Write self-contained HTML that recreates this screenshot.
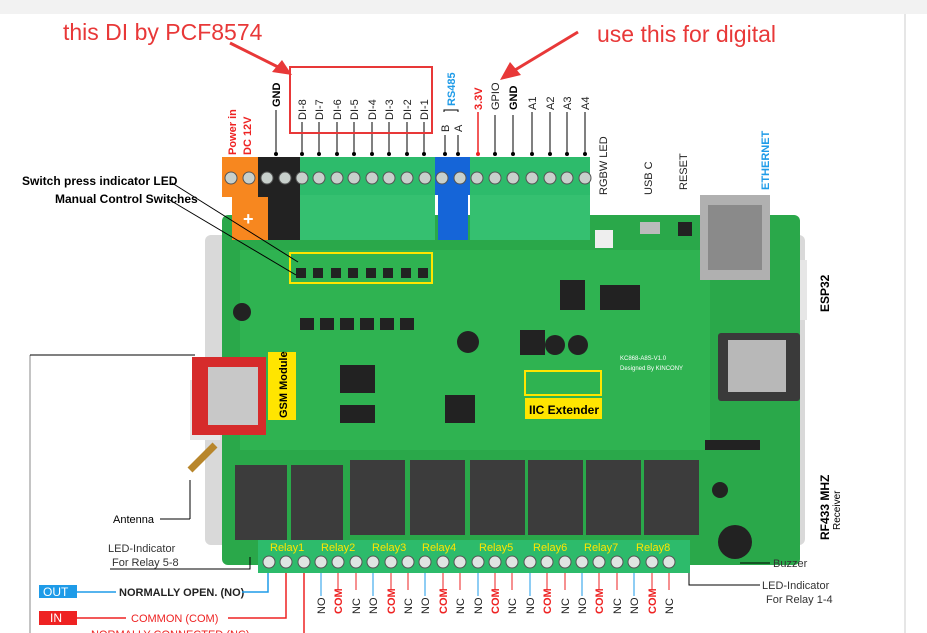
<!DOCTYPE html>
<html><head><meta charset="utf-8"><style>
html,body{margin:0;padding:0;background:#fff;width:927px;height:633px;overflow:hidden}
svg{display:block;font-family:"Liberation Sans",sans-serif}
</style></head><body>
<svg width="927" height="633" viewBox="0 0 927 633" xmlns="http://www.w3.org/2000/svg">
<rect x="0" y="0" width="927" height="14" fill="#f2f2f2"/>
<line x1="905" y1="14" x2="905" y2="633" stroke="#e6e6e6" stroke-width="2"/>
<line x1="30" y1="355" x2="30" y2="633" stroke="#888" stroke-width="1"/>

<!-- enclosure -->
<rect x="205" y="235" width="600" height="310" rx="6" fill="#d9d9d9"/>
<rect x="190" y="380" width="30" height="60" fill="#e6e6e6"/>
<rect x="785" y="260" width="22" height="60" fill="#e6e6e6"/>
<!-- board -->
<rect x="222" y="215" width="578" height="350" rx="6" fill="#2aa84a"/>
<rect x="240" y="250" width="470" height="200" fill="#31b552" opacity="0.8"/>
<!-- switches row -->
<rect x="290" y="253" width="142" height="30" fill="none" stroke="#ffe500" stroke-width="2"/>
<g fill="#222">
<rect x="296" y="268" width="10" height="10"/><rect x="313" y="268" width="10" height="10"/><rect x="331" y="268" width="10" height="10"/><rect x="348" y="268" width="10" height="10"/><rect x="366" y="268" width="10" height="10"/><rect x="383" y="268" width="10" height="10"/><rect x="401" y="268" width="10" height="10"/><rect x="418" y="268" width="10" height="10"/>
<rect x="300" y="318" width="14" height="12"/><rect x="320" y="318" width="14" height="12"/><rect x="340" y="318" width="14" height="12"/><rect x="360" y="318" width="14" height="12"/><rect x="380" y="318" width="14" height="12"/><rect x="400" y="318" width="14" height="12"/>
<rect x="340" y="365" width="35" height="28"/><rect x="340" y="405" width="35" height="18"/><rect x="445" y="395" width="30" height="28"/>
<rect x="560" y="280" width="25" height="30"/><rect x="600" y="285" width="40" height="25"/><rect x="520" y="330" width="25" height="25"/>
<circle cx="242" cy="312" r="9"/><circle cx="468" cy="342" r="11"/><circle cx="555" cy="345" r="10"/><circle cx="578" cy="345" r="10"/>
</g>
<!-- ESP32 -->
<rect x="718" y="333" width="82" height="68" rx="3" fill="#3a3a3a"/>
<rect x="728" y="340" width="58" height="52" fill="#b8b8b8"/>
<!-- ethernet -->
<rect x="700" y="195" width="70" height="85" fill="#b0b0b0"/>
<rect x="708" y="205" width="54" height="65" fill="#8a8a8a"/>
<!-- usb/reset/rgbw -->
<rect x="640" y="222" width="20" height="12" fill="#bbb"/>
<rect x="678" y="222" width="14" height="14" fill="#222"/>
<rect x="595" y="230" width="18" height="18" fill="#eee"/>
<!-- SIM module -->
<rect x="192" y="357" width="74" height="78" fill="#d62b2b"/>
<rect x="208" y="367" width="50" height="58" fill="#c8c8c8"/>
<rect x="268" y="352" width="28" height="68" fill="#ffe500"/>
<text transform="translate(287,418) rotate(-90)" font-size="11" font-weight="bold" fill="#000">GSM Module</text>
<!-- IIC -->
<rect x="525" y="371" width="76" height="24" fill="none" stroke="#ffe500" stroke-width="2"/>
<rect x="525" y="398" width="77" height="21" fill="#ffe500"/>
<text x="529" y="414" font-size="12" font-weight="bold">IIC Extender</text>
<text x="620" y="360" font-size="6" fill="#fff">KC868-A8S-V1.0</text>
<text x="620" y="370" font-size="6" fill="#fff">Designed By KINCONY</text>
<!-- relays -->
<g fill="#3c3c3c">
<rect x="235" y="465" width="52" height="75"/><rect x="291" y="465" width="52" height="75"/>
<rect x="350" y="460" width="55" height="75"/><rect x="410" y="460" width="55" height="75"/><rect x="470" y="460" width="55" height="75"/><rect x="528" y="460" width="55" height="75"/><rect x="586" y="460" width="55" height="75"/><rect x="644" y="460" width="55" height="75"/>
</g>
<circle cx="735" cy="542" r="17" fill="#222"/>
<circle cx="720" cy="490" r="8" fill="#222"/>
<rect x="705" y="440" width="55" height="10" fill="#222"/>
<!-- antenna -->
<line x1="190" y1="470" x2="215" y2="445" stroke="#b8862b" stroke-width="7"/>

<!-- top terminal blocks -->
<rect x="222" y="157" width="36" height="40" fill="#f7871f"/>
<rect x="232" y="195" width="36" height="45" fill="#f7871f"/>
<text x="243" y="225" font-size="18" font-weight="bold" fill="#fff">+</text>
<rect x="258" y="157" width="42" height="40" fill="#222"/>
<rect x="268" y="195" width="32" height="45" fill="#222"/>
<rect x="300" y="157" width="135" height="40" fill="#2dbb6b"/>
<rect x="300" y="195" width="135" height="45" fill="#35c070"/>
<rect x="435" y="157" width="35" height="38" fill="#1565d8"/>
<rect x="438" y="195" width="30" height="45" fill="#1565d8"/>
<rect x="470" y="157" width="120" height="40" fill="#2dbb6b"/>
<rect x="470" y="195" width="120" height="45" fill="#35c070"/>
<g fill="#c8d0cc" stroke="#555" stroke-width="1">
<circle cx="231" cy="178" r="6"/><circle cx="249" cy="178" r="6"/><circle cx="267" cy="178" r="6"/><circle cx="285" cy="178" r="6"/>
<circle cx="302" cy="178" r="6"/><circle cx="319" cy="178" r="6"/><circle cx="337" cy="178" r="6"/><circle cx="354" cy="178" r="6"/><circle cx="372" cy="178" r="6"/><circle cx="389" cy="178" r="6"/><circle cx="407" cy="178" r="6"/><circle cx="425" cy="178" r="6"/>
<circle cx="442" cy="178" r="6"/><circle cx="460" cy="178" r="6"/>
<circle cx="477" cy="178" r="6"/><circle cx="495" cy="178" r="6"/><circle cx="513" cy="178" r="6"/><circle cx="532" cy="178" r="6"/><circle cx="550" cy="178" r="6"/><circle cx="567" cy="178" r="6"/><circle cx="585" cy="178" r="6"/>
</g>
<!-- top pin leaders -->
<g stroke="#000" stroke-width="1">
<line x1="276" y1="110" x2="276" y2="154"/><line x1="302" y1="122" x2="302" y2="154"/><line x1="319" y1="122" x2="319" y2="154"/><line x1="337" y1="122" x2="337" y2="154"/><line x1="354" y1="122" x2="354" y2="154"/><line x1="372" y1="122" x2="372" y2="154"/><line x1="389" y1="122" x2="389" y2="154"/><line x1="407" y1="122" x2="407" y2="154"/><line x1="424" y1="122" x2="424" y2="154"/>
<line x1="445" y1="135" x2="445" y2="154"/><line x1="458" y1="135" x2="458" y2="154"/>
<line x1="495" y1="115" x2="495" y2="154"/><line x1="513" y1="115" x2="513" y2="154"/><line x1="532" y1="112" x2="532" y2="154"/><line x1="550" y1="112" x2="550" y2="154"/><line x1="567" y1="112" x2="567" y2="154"/><line x1="585" y1="112" x2="585" y2="154"/>
<polyline points="444,112 444,110 458,110 458,112" fill="none"/>
</g>
<line x1="478" y1="112" x2="478" y2="154" stroke="#e22" stroke-width="1.5"/>
<g fill="#000"><circle cx="276" cy="154" r="2"/><circle cx="302" cy="154" r="2"/><circle cx="319" cy="154" r="2"/><circle cx="337" cy="154" r="2"/><circle cx="354" cy="154" r="2"/><circle cx="372" cy="154" r="2"/><circle cx="389" cy="154" r="2"/><circle cx="407" cy="154" r="2"/><circle cx="424" cy="154" r="2"/><circle cx="445" cy="154" r="2"/><circle cx="458" cy="154" r="2"/><circle cx="495" cy="154" r="2"/><circle cx="513" cy="154" r="2"/><circle cx="532" cy="154" r="2"/><circle cx="550" cy="154" r="2"/><circle cx="567" cy="154" r="2"/><circle cx="585" cy="154" r="2"/></g>
<circle cx="478" cy="154" r="2" fill="#e22"/>
<g font-size="11" fill="#222">
<text transform="translate(306,120) rotate(-90)">DI-8</text><text transform="translate(323,120) rotate(-90)">DI-7</text><text transform="translate(341,120) rotate(-90)">DI-6</text><text transform="translate(358,120) rotate(-90)">DI-5</text><text transform="translate(376,120) rotate(-90)">DI-4</text><text transform="translate(393,120) rotate(-90)">DI-3</text><text transform="translate(411,120) rotate(-90)">DI-2</text><text transform="translate(428,120) rotate(-90)">DI-1</text>
<text transform="translate(449,132) rotate(-90)">B</text><text transform="translate(462,132) rotate(-90)">A</text>
<text transform="translate(499,110) rotate(-90)">GPIO</text>
<text transform="translate(536,110) rotate(-90)">A1</text><text transform="translate(554,110) rotate(-90)">A2</text><text transform="translate(571,110) rotate(-90)">A3</text><text transform="translate(589,110) rotate(-90)">A4</text>
<text transform="translate(607,195) rotate(-90)">RGBW  LED</text>
<text transform="translate(652,195) rotate(-90)">USB C</text>
<text transform="translate(687,190) rotate(-90)">RESET</text>
</g>
<text transform="translate(280,107) rotate(-90)" font-size="11" font-weight="bold">GND</text>
<text transform="translate(517,110) rotate(-90)" font-size="11" font-weight="bold">GND</text>
<text transform="translate(482,110) rotate(-90)" font-size="11" font-weight="bold" fill="#e22">3.3V</text>
<text transform="translate(455,106) rotate(-90)" font-size="11" font-weight="bold" fill="#1e9be8">RS485</text>
<text transform="translate(769,190) rotate(-90)" font-size="11" font-weight="bold" fill="#1e9be8">ETHERNET</text>
<text transform="translate(236,155) rotate(-90)" font-size="11" font-weight="bold" fill="#e22">Power in</text>
<text transform="translate(251,155) rotate(-90)" font-size="11" font-weight="bold" fill="#e22">DC 12V</text>
<text transform="translate(829,312) rotate(-90)" font-size="12" font-weight="bold">ESP32</text>
<text transform="translate(829,540) rotate(-90)" font-size="12" font-weight="bold">RF433 MHZ</text>
<text transform="translate(840,530) rotate(-90)" font-size="10">Receiver</text>
<!-- red annotations -->
<rect x="290" y="67" width="142" height="66" fill="none" stroke="#e83838" stroke-width="2"/>
<text x="63" y="40" font-size="23" fill="#e83838">this DI by PCF8574</text>
<text x="597" y="42" font-size="23" fill="#e83838">use this for digital</text>
<line x1="230" y1="43" x2="280" y2="68" stroke="#e83838" stroke-width="3"/>
<polygon points="292,75 272,72 282,60" fill="#e83838"/>
<line x1="578" y1="32" x2="515" y2="70" stroke="#e83838" stroke-width="3"/>
<polygon points="500,80 510,62 521,75" fill="#e83838"/>
<!-- left labels -->
<text x="22" y="185" font-size="12" font-weight="bold">Switch press indicator LED</text>
<text x="55" y="203" font-size="12" font-weight="bold">Manual Control Switches</text>
<line x1="172" y1="183" x2="298" y2="262" stroke="#000"/>
<line x1="168" y1="199" x2="296" y2="275" stroke="#000"/>
<line x1="30" y1="355" x2="195" y2="355" stroke="#000"/>
<text x="113" y="523" font-size="11">Antenna</text>
<line x1="160" y1="519" x2="190" y2="519" stroke="#000"/><line x1="190" y1="519" x2="190" y2="480" stroke="#000"/>
<text x="108" y="552" font-size="11" fill="#333">LED-Indicator</text>
<text x="112" y="566" font-size="11" fill="#333">For Relay 5-8</text>
<polyline points="110,569 250,569 250,557" fill="none" stroke="#000"/>
<text x="773" y="567" font-size="11" fill="#333">Buzzer</text>
<line x1="740" y1="563" x2="770" y2="563" stroke="#000"/>
<text x="762" y="589" font-size="11" fill="#333">LED-Indicator</text>
<text x="766" y="603" font-size="11" fill="#333">For Relay 1-4</text>
<polyline points="689,565 689,585 760,585" fill="none" stroke="#000"/>
<!-- bottom terminal -->
<rect x="258" y="540" width="432" height="33" fill="#2dbb6b"/>
<g font-size="11" fill="#ffe500">
<text x="270" y="551">Relay1</text><text x="321" y="551">Relay2</text><text x="372" y="551">Relay3</text><text x="422" y="551">Relay4</text><text x="479" y="551">Relay5</text><text x="533" y="551">Relay6</text><text x="584" y="551">Relay7</text><text x="636" y="551">Relay8</text>
</g>
<g fill="#dfe5e2" stroke="#555" stroke-width="1">
<circle cx="269" cy="562" r="6"/><circle cx="286" cy="562" r="6"/><circle cx="304" cy="562" r="6"/><circle cx="321" cy="562" r="6"/><circle cx="338" cy="562" r="6"/><circle cx="356" cy="562" r="6"/><circle cx="373" cy="562" r="6"/><circle cx="391" cy="562" r="6"/><circle cx="408" cy="562" r="6"/><circle cx="425" cy="562" r="6"/><circle cx="443" cy="562" r="6"/><circle cx="460" cy="562" r="6"/><circle cx="478" cy="562" r="6"/><circle cx="495" cy="562" r="6"/><circle cx="512" cy="562" r="6"/><circle cx="530" cy="562" r="6"/><circle cx="547" cy="562" r="6"/><circle cx="565" cy="562" r="6"/><circle cx="582" cy="562" r="6"/><circle cx="599" cy="562" r="6"/><circle cx="617" cy="562" r="6"/><circle cx="634" cy="562" r="6"/><circle cx="652" cy="562" r="6"/><circle cx="669" cy="562" r="6"/>
</g>
<!-- NO/COM/NC -->
<g font-size="11">
<g stroke="#1e9be8"><line x1="321" y1="573" x2="321" y2="596"/><line x1="373" y1="573" x2="373" y2="596"/><line x1="425" y1="573" x2="425" y2="596"/><line x1="478" y1="573" x2="478" y2="596"/><line x1="530" y1="573" x2="530" y2="596"/><line x1="582" y1="573" x2="582" y2="596"/><line x1="634" y1="573" x2="634" y2="596"/></g>
<g stroke="#e22"><line x1="338" y1="573" x2="338" y2="590"/><line x1="356" y1="573" x2="356" y2="590"/><line x1="391" y1="573" x2="391" y2="590"/><line x1="408" y1="573" x2="408" y2="590"/><line x1="443" y1="573" x2="443" y2="590"/><line x1="460" y1="573" x2="460" y2="590"/><line x1="495" y1="573" x2="495" y2="590"/><line x1="512" y1="573" x2="512" y2="590"/><line x1="547" y1="573" x2="547" y2="590"/><line x1="565" y1="573" x2="565" y2="590"/><line x1="599" y1="573" x2="599" y2="590"/><line x1="617" y1="573" x2="617" y2="590"/><line x1="652" y1="573" x2="652" y2="590"/><line x1="669" y1="573" x2="669" y2="590"/></g>
<g fill="#222">
<text transform="translate(325,614) rotate(-90)">NO</text><text transform="translate(377,614) rotate(-90)">NO</text><text transform="translate(429,614) rotate(-90)">NO</text><text transform="translate(482,614) rotate(-90)">NO</text><text transform="translate(534,614) rotate(-90)">NO</text><text transform="translate(586,614) rotate(-90)">NO</text><text transform="translate(638,614) rotate(-90)">NO</text>
<text transform="translate(360,614) rotate(-90)">NC</text><text transform="translate(412,614) rotate(-90)">NC</text><text transform="translate(464,614) rotate(-90)">NC</text><text transform="translate(516,614) rotate(-90)">NC</text><text transform="translate(569,614) rotate(-90)">NC</text><text transform="translate(621,614) rotate(-90)">NC</text><text transform="translate(673,614) rotate(-90)">NC</text>
</g>
<g fill="#e22" font-weight="bold">
<text transform="translate(342,614) rotate(-90)">COM</text><text transform="translate(395,614) rotate(-90)">COM</text><text transform="translate(447,614) rotate(-90)">COM</text><text transform="translate(499,614) rotate(-90)">COM</text><text transform="translate(551,614) rotate(-90)">COM</text><text transform="translate(603,614) rotate(-90)">COM</text><text transform="translate(656,614) rotate(-90)">COM</text>
</g>
</g>
<!-- OUT/IN legend -->
<rect x="39" y="585" width="38" height="13" fill="#1e9be8"/>
<text x="43" y="596" font-size="12" fill="#fff">OUT</text>
<line x1="77" y1="592" x2="116" y2="592" stroke="#1e9be8" stroke-width="1.5"/>
<text x="119" y="596" font-size="11" font-weight="bold" fill="#222">NORMALLY OPEN.  (NO)</text>
<polyline points="242,592 268,592 268,573" fill="none" stroke="#1e9be8" stroke-width="1.5"/>
<rect x="39" y="611" width="38" height="14" fill="#e22"/>
<text x="50" y="622" font-size="12" fill="#fff">IN</text>
<line x1="77" y1="618" x2="126" y2="618" stroke="#e22" stroke-width="1.5"/>
<text x="131" y="622" font-size="11" fill="#e22">COMMON    (COM)</text>
<polyline points="228,618 286,618 286,573" fill="none" stroke="#e22" stroke-width="1.5"/>
<text x="91" y="638" font-size="11" fill="#e22">NORMALLY CONNECTED      (NC)</text>
<line x1="304" y1="573" x2="304" y2="633" stroke="#e22" stroke-width="1.5"/>
</svg>
</body></html>
